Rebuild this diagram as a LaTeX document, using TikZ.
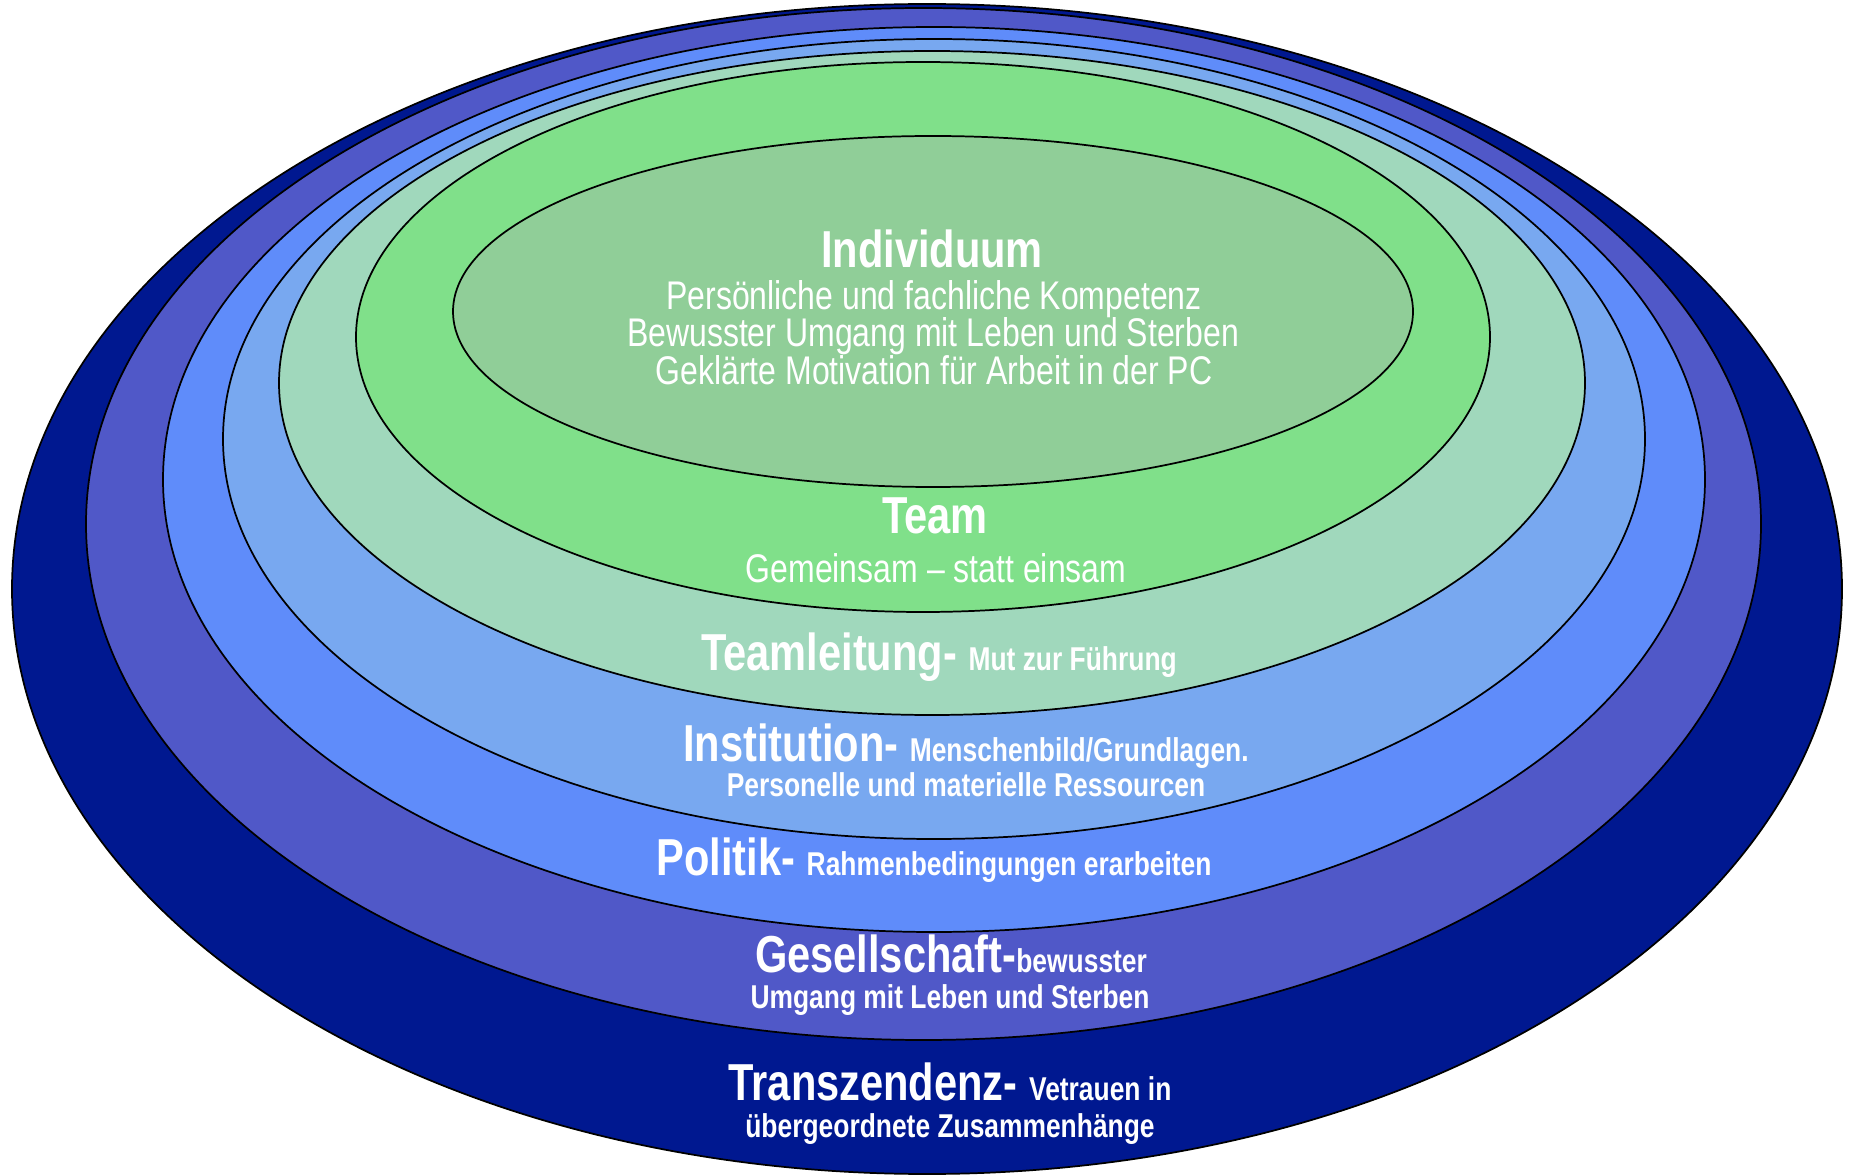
\documentclass[tikz,border=0pt]{standalone}
\usepackage{fontspec}
\setmainfont{Liberation Sans}[FakeStretch=0.8]
\usepackage{tikz}
\usetikzlibrary{positioning}
\usepackage{xcolor}
\definecolor{ringnavy}{RGB}{0,24,144}
\definecolor{ringviolet}{RGB}{80,88,200}
\definecolor{ringblue}{RGB}{95,140,250}
\definecolor{ringsky}{RGB}{120,168,240}
\definecolor{ringmint}{RGB}{160,216,188}
\definecolor{ringgreen}{RGB}{128,224,138}
\definecolor{ringsage}{RGB}{144,206,152}
\tikzstyle{ring} = [draw=black, line width=1.3pt]
\tikzstyle{layertitle} = [text=white, anchor=base, inner sep=0pt, font=\bfseries\fontsize{39}{44}\selectfont]
\tikzstyle{layertext} = [text=white, anchor=base, inner sep=0pt, font=\fontsize{30}{36}\selectfont]
\tikzstyle{layernote} = [text=white, anchor=base, inner sep=0pt, font=\bfseries\fontsize{24.75}{30}\selectfont]
\newcommand{\aside}[1]{{\fontsize{24.75}{30}\selectfont #1}}

\begin{document}
\begin{tikzpicture}[x=0.75pt, y=-0.75pt]
\useasboundingbox[fill=white] (0,0) rectangle (1850,1176);

% Rings, outermost first
\fill[ring, fill=ringnavy]   (927,589)   ellipse [x radius=915,   y radius=585];
\fill[ring, fill=ringviolet] (923.5,524) ellipse [x radius=837.5, y radius=516];
\fill[ring, fill=ringblue]   (934,479.5) ellipse [x radius=771,   y radius=452.5];
\fill[ring, fill=ringsky]    (934,439)   ellipse [x radius=711,   y radius=400];
\fill[ring, fill=ringmint]   (932,383)   ellipse [x radius=653,   y radius=332];
\fill[ring, fill=ringgreen]  (923,337)   ellipse [x radius=567,   y radius=275];
\fill[ring, fill=ringsage]   (933,311.5) ellipse [x radius=480,   y radius=175.5];

% Core
\node[layertitle] (indiv) at (932,268) {Individuum};
\node[layertext] (indivA) at (934,310) {Persönliche und fachliche Kompetenz};
\node[layertext] (indivB) at (933,347) {Bewusster Umgang mit Leben und Sterben};
\node[layertext] (indivC) at (934,385) {Geklärte Motivation für Arbeit in der PC};

% Team
\node[layertitle] (team) at (935,534) {Team};
\node[layertext] (teamA) at (936,583) {Gemeinsam – statt einsam};

% Outer layers
\node[layertitle] (lead) at (939,670) {Teamleitung- \aside{Mut zur Führung}};
\node[layertitle] (inst) at (966,761) {Institution- \aside{Menschenbild/Grundlagen.}};
\node[layernote] (instA) at (966,796) {Personelle und materielle Ressourcen};
\node[layertitle] (pol) at (934,875) {Politik- \aside{Rahmenbedingungen erarbeiten}};
\node[layertitle] (soc) at (951,972) {Gesellschaft-\aside{bewusster}};
\node[layernote] (socA) at (950,1008) {Umgang mit Leben und Sterben};
\node[layertitle] (trans) at (950,1100) {Transzendenz- \aside{Vetrauen in}};
\node[layernote] (transA) at (950,1137) {übergeordnete Zusammenhänge};
\end{tikzpicture}
\end{document}
